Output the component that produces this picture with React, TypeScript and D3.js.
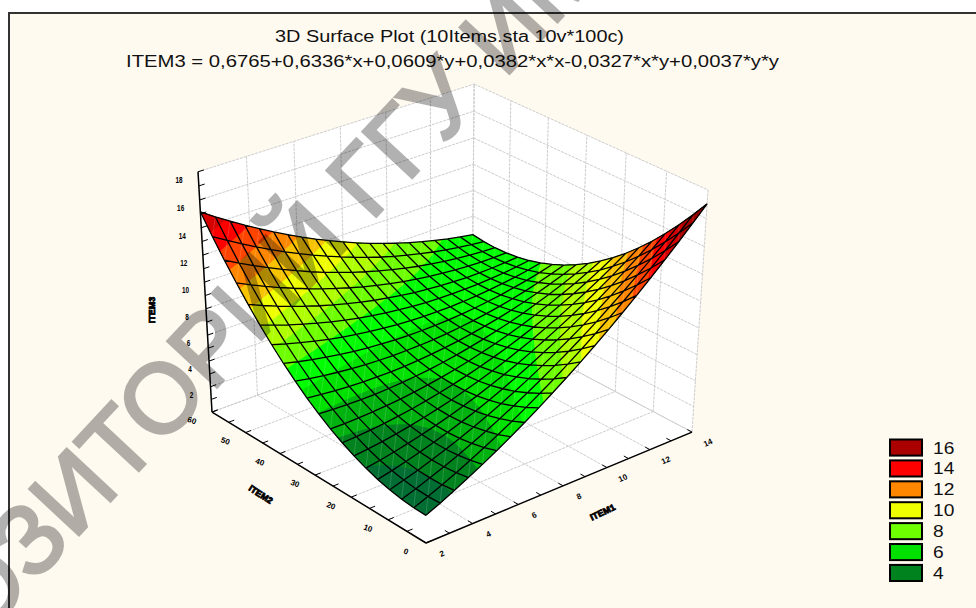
import React from "react";
import * as d3 from "d3";

const width = 976;
const height = 608;

const title = "3D Surface Plot (10Items.sta 10v*100c)";
const equation = "ITEM3 = 0,6765+0,6336*x+0,0609*y+0,0382*x*x-0,0327*x*y+0,0037*y*y";
const watermark = "РЕПОЗИТОРИЙ ГГУ ИМЕНИ Ф.СКОРИНЫ";

const xTicks = [2, 4, 6, 8, 10, 12, 14];
const xMinor = [3, 5, 7, 9, 11, 13];
const yTicks = [0, 10, 20, 30, 40, 50, 60];
const yMinor = [5, 15, 25, 35, 45, 55];
const zTicks = [0, 2, 4, 6, 8, 10, 12, 14, 16, 18];
const zMinor = [1, 3, 5, 7, 9, 11, 13, 15, 17];
const zLabels = [2, 4, 6, 8, 10, 12, 14, 16, 18];

const legendLevels = [16, 14, 12, 10, 8, 6, 4];

// ITEM3 read on the mesh: one row per x step (2 -> 14), one column per y step (0 -> 60)
const surface = [
  [2.10, 2.12, 2.22, 2.39, 2.63, 2.95, 3.34, 3.81, 4.34, 4.96, 5.64, 6.41, 7.24, 8.15, 9.13, 10.19, 11.32, 12.52, 13.80, 15.15],
  [2.58, 2.54, 2.58, 2.69, 2.87, 3.12, 3.45, 3.86, 4.33, 4.89, 5.51, 6.21, 6.98, 7.83, 8.75, 9.74, 10.81, 11.95, 13.17, 14.45],
  [3.10, 2.99, 2.97, 3.01, 3.13, 3.33, 3.59, 3.94, 4.35, 4.84, 5.40, 6.04, 6.75, 7.54, 8.39, 9.33, 10.33, 11.41, 12.56, 13.79],
  [3.64, 3.47, 3.38, 3.37, 3.43, 3.56, 3.76, 4.04, 4.40, 4.82, 5.32, 5.90, 6.55, 7.27, 8.07, 8.94, 9.88, 10.90, 11.99, 13.15],
  [4.20, 3.98, 3.83, 3.75, 3.75, 3.82, 3.96, 4.18, 4.47, 4.83, 5.27, 5.79, 6.37, 7.03, 7.77, 8.58, 9.46, 10.41, 11.44, 12.55],
  [4.80, 4.51, 4.30, 4.16, 4.09, 4.10, 4.18, 4.34, 4.57, 4.87, 5.25, 5.70, 6.22, 6.82, 7.50, 8.24, 9.06, 9.96, 10.92, 11.96],
  [5.42, 5.07, 4.80, 4.60, 4.47, 4.41, 4.43, 4.53, 4.70, 4.94, 5.25, 5.64, 6.10, 6.64, 7.25, 7.93, 8.69, 9.52, 10.43, 11.41],
  [6.07, 5.66, 5.33, 5.06, 4.87, 4.76, 4.71, 4.75, 4.85, 5.03, 5.28, 5.61, 6.01, 6.49, 7.03, 7.66, 8.35, 9.12, 9.97, 10.88],
  [6.75, 6.28, 5.88, 5.55, 5.30, 5.12, 5.02, 4.99, 5.03, 5.15, 5.34, 5.61, 5.95, 6.36, 6.84, 7.40, 8.04, 8.75, 9.53, 10.38],
  [7.46, 6.92, 6.46, 6.07, 5.76, 5.52, 5.35, 5.26, 5.24, 5.30, 5.43, 5.63, 5.91, 6.26, 6.68, 7.18, 7.75, 8.40, 9.12, 9.91],
  [8.19, 7.59, 7.07, 6.62, 6.25, 5.94, 5.72, 5.56, 5.48, 5.47, 5.54, 5.68, 5.90, 6.19, 6.55, 6.99, 7.50, 8.08, 8.74, 9.47],
  [8.95, 8.29, 7.71, 7.20, 6.76, 6.39, 6.10, 5.89, 5.75, 5.68, 5.68, 5.76, 5.91, 6.14, 6.44, 6.82, 7.26, 7.79, 8.38, 9.05],
  [9.74, 9.02, 8.37, 7.80, 7.30, 6.87, 6.52, 6.24, 6.04, 5.91, 5.85, 5.87, 5.96, 6.12, 6.36, 6.67, 7.06, 7.52, 8.05, 8.66],
  [10.55, 9.77, 9.06, 8.43, 7.87, 7.38, 6.96, 6.62, 6.36, 6.17, 6.05, 6.00, 6.03, 6.13, 6.31, 6.56, 6.89, 7.28, 7.75, 8.30],
  [11.40, 10.55, 9.78, 9.08, 8.46, 7.91, 7.44, 7.03, 6.71, 6.45, 6.27, 6.16, 6.13, 6.17, 6.29, 6.48, 6.74, 7.07, 7.48, 7.97],
  [12.27, 11.36, 10.53, 9.77, 9.08, 8.47, 7.93, 7.47, 7.08, 6.76, 6.52, 6.35, 6.26, 6.24, 6.29, 6.42, 6.62, 6.89, 7.24, 7.66],
  [13.17, 12.20, 11.30, 10.48, 9.73, 9.06, 8.46, 7.94, 7.48, 7.11, 6.80, 6.57, 6.41, 6.33, 6.32, 6.38, 6.52, 6.74, 7.02, 7.38],
  [14.09, 13.06, 12.11, 11.22, 10.41, 9.68, 9.02, 8.43, 7.91, 7.47, 7.11, 6.81, 6.60, 6.45, 6.38, 6.38, 6.46, 6.61, 6.83, 7.13],
  [15.05, 13.95, 12.93, 11.99, 11.12, 10.32, 9.60, 8.95, 8.37, 7.87, 7.44, 7.09, 6.80, 6.60, 6.46, 6.40, 6.42, 6.51, 6.67, 6.90],
  [16.03, 14.87, 13.79, 12.78, 11.85, 10.99, 10.21, 9.49, 8.86, 8.29, 7.80, 7.39, 7.04, 6.77, 6.58, 6.46, 6.41, 6.44, 6.54, 6.71],
  [17.03, 15.82, 14.68, 13.61, 12.61, 11.69, 10.84, 10.07, 9.37, 8.74, 8.19, 7.71, 7.31, 6.98, 6.72, 6.54, 6.43, 6.39, 6.43, 6.54],
];

const bandLevels = d3.range(0, 18);

const colorScale = d3
  .scaleLinear<string>()
  .domain([3, 4, 6, 7, 8, 10, 12, 14, 16, 18])
  .range(["#006e32", "#00821e", "#00e100", "#00ff00", "#6eff00", "#f0ff00", "#ff8700", "#ff0000", "#aa0000", "#800000"])
  .clamp(true);

const xScale = d3.scaleLinear().domain([2, 14]).range([0, 1]);
const yScale = d3.scaleLinear().domain([0, 60]).range([0, 1]);
const zScale = d3.scaleLinear().domain([0, 18]).range([0, 1]);

// perspective camera: vanishing points of the three box directions + the front floor corner
const front = [426, 543];
const vpX = [4891, -1319];
const vpY = [-2592, -1304];
const vpZ = [437, 4278];
const kx = 0.06335;
const ky = 0.07632;
const kz = -0.06297;

function project(a: number, b: number, c: number): [number, number] {
  const w = kx * a + ky * b + kz * c + 1;
  const u = kx * vpX[0] * a + ky * vpY[0] * b + kz * vpZ[0] * c + front[0];
  const v = kx * vpX[1] * a + ky * vpY[1] * b + kz * vpZ[1] * c + front[1];
  return [u / w, v / w];
}

const line = d3.line();
const seg = (p: [number, number, number], q: [number, number, number]) =>
  line([project(p[0], p[1], p[2]), project(q[0], q[1], q[2])]) as string;

const rows = surface.length - 1;
const cols = surface[0].length - 1;

function meshPoint(r: number, c: number): [number, number] {
  return project(r / rows, c / cols, zScale(surface[r][c]));
}

// contour vertices are in grid units, sample positions sit at +0.5
function contourPoint([gx, gy]: number[]): [number, number] {
  const c = Math.min(cols, Math.max(0, gx - 0.5));
  const r = Math.min(rows, Math.max(0, gy - 0.5));
  const c0 = Math.min(cols - 1, Math.floor(c));
  const r0 = Math.min(rows - 1, Math.floor(r));
  const fc = c - c0;
  const fr = r - r0;
  const z =
    surface[r0][c0] * (1 - fr) * (1 - fc) +
    surface[r0][c0 + 1] * (1 - fr) * fc +
    surface[r0 + 1][c0] * fr * (1 - fc) +
    surface[r0 + 1][c0 + 1] * fr * fc;
  return project(r / rows, c / cols, zScale(z));
}

const contourLayers = d3
  .contours()
  .size([cols + 1, rows + 1])
  .thresholds(bandLevels)(surface.flat());

function layerPath(layer: d3.ContourMultiPolygon) {
  return layer.coordinates
    .map((poly) => poly.map((ring) => line(ring.map(contourPoint)) + "Z").join(""))
    .join("");
}

const gridColor = "#cdcdcd";
const sans = "'Liberation Sans', Arial, sans-serif";

const Grid = () => {
  const paths: string[] = [];
  xTicks.forEach((t) => {
    const a = xScale(t);
    paths.push(seg([a, 0, 0], [a, 1, 0]));
    paths.push(seg([a, 1, 0], [a, 1, 1]));
  });
  yTicks.forEach((t) => {
    const b = yScale(t);
    paths.push(seg([0, b, 0], [1, b, 0]));
    paths.push(seg([1, b, 0], [1, b, 1]));
  });
  zTicks.forEach((t) => {
    const c = zScale(t);
    paths.push(seg([0, 1, c], [1, 1, c]));
    paths.push(seg([1, 1, c], [1, 0, c]));
  });
  return <path d={paths.join("")} fill="none" stroke={gridColor} strokeWidth={1} strokeDasharray="3 1" />;
};

const Axes = () => {
  const ticks: string[] = [];
  [...xTicks, ...xMinor].forEach((t) => ticks.push(seg([xScale(t), 0, 0], [xScale(t), 0.02, 0])));
  [...yTicks, ...yMinor].forEach((t) => ticks.push(seg([0, yScale(t), 0], [0.02, yScale(t), 0])));
  [...zTicks, ...zMinor].forEach((t) => ticks.push(seg([0, 1, zScale(t)], [0.02, 1, zScale(t)])));
  const spines = [seg([0, 0, 0], [1, 0, 0]), seg([0, 0, 0], [0, 1, 0]), seg([0, 1, 0], [0, 1, 1])];
  return (
    <g fill="none" stroke="#000">
      <path d={ticks.join("")} strokeWidth={1} />
      <path d={spines.join("")} strokeWidth={1.5} />
    </g>
  );
};

const tickFont = { fontFamily: sans, fontSize: 8, fontWeight: 700, fill: "#000" };

const TickLabels = () => (
  <g {...tickFont} textAnchor="middle">
    {xTicks.map((t) => {
      const [px, py] = project(xScale(t), 0, 0);
      return (
        <text key={"x" + t} transform={`translate(${px + 17},${py + 13}) rotate(-24)`}>
          {t}
        </text>
      );
    })}
    {yTicks.map((t) => {
      const [px, py] = project(0, yScale(t), 0);
      return (
        <text key={"y" + t} transform={`translate(${px - 21},${py + 11}) rotate(20)`}>
          {t}
        </text>
      );
    })}
    {zLabels.map((t) => {
      const [px, py] = project(0, 1, zScale(t));
      return (
        <text key={"z" + t} transform={`translate(${px - 19},${py + 11}) scale(0.8,1.1)`}>
          {t}
        </text>
      );
    })}
  </g>
);

const Legend = () => {
  const y = d3.scaleBand<number>().domain(legendLevels).range([439.5, 581]).paddingInner(0.23);
  return (
    <g>
      {legendLevels.map((d) => (
        <g key={d}>
          <rect
            x={890}
            y={y(d)}
            width={32}
            height={y.bandwidth()}
            fill={colorScale(d)}
            stroke="#000"
            strokeWidth={2}
          />
          <text
            transform={`translate(933,${(y(d) as number) + 14}) scale(1.2,1)`}
            fontFamily={sans}
            fontSize={16}
            fill="#111"
          >
            {d}
          </text>
        </g>
      ))}
    </g>
  );
};

export default function App() {
  const mesh: string[] = [];
  const diagonals: string[] = [];
  d3.range(rows + 1).forEach((r) => {
    mesh.push(line(d3.range(cols + 1).map((c) => meshPoint(r, c))) as string);
  });
  d3.range(cols + 1).forEach((c) => {
    mesh.push(line(d3.range(rows + 1).map((r) => meshPoint(r, c))) as string);
  });
  d3.range(rows).forEach((r) => {
    d3.range(cols).forEach((c) => {
      diagonals.push(line([meshPoint(r, c), meshPoint(r + 1, c + 1)]) as string);
    });
  });

  const walls = [
    [project(0, 0, 0), project(0, 1, 0), project(1, 1, 0), project(1, 0, 0)],
    [project(0, 1, 0), project(0, 1, 1), project(1, 1, 1), project(1, 1, 0)],
    [project(1, 0, 0), project(1, 0, 1), project(1, 1, 1), project(1, 1, 0)],
  ];

  return (
    <svg
      width={width}
      height={height}
      style={{ position: "absolute", left: 0, top: 0, display: "block", background: "#fff" }}
    >
      <rect x={9} y={13} width={width} height={height} fill="#fffaf0" stroke="#333" strokeWidth={2} />

      <text x={275} y={41.5} textLength={349} lengthAdjust="spacingAndGlyphs" fontFamily={sans} fontSize={16} fill="#111">
        {title}
      </text>
      <text x={126} y={66.5} textLength={653} lengthAdjust="spacingAndGlyphs" fontFamily={sans} fontSize={16} fill="#111">
        {equation}
      </text>

      {walls.map((w, i) => (
        <path key={i} d={line(w) + "Z"} fill="#fff" />
      ))}
      <Grid />

      {contourLayers.map((layer) => (
        <path key={layer.value} d={layerPath(layer)} fill={colorScale(layer.value + 1)} fillRule="evenodd" />
      ))}
      <path d={diagonals.join("")} fill="none" stroke="#fff" strokeOpacity={0.2} strokeWidth={0.8} />
      <path d={mesh.join("")} fill="none" stroke="#000" strokeWidth={1.3} />

      <Axes />
      <TickLabels />

      <g fontFamily={sans} fontWeight={700} fontSize={9} fill="#000" stroke="#000" strokeWidth={0.8} textAnchor="middle">
        <text transform="translate(155,310) rotate(-90)">ITEM3</text>
        <text transform="translate(259,497) rotate(33)">ITEM2</text>
        <text transform="translate(604,515) rotate(-26)">ITEM1</text>
      </g>

      <Legend />

      <text
        transform="translate(-156,787) rotate(-47)"
        fontFamily={sans}
        fontSize={98}
        fill="#000"
        stroke="#000"
        strokeWidth={3}
        opacity={0.3}
      >
        {watermark}
      </text>
    </svg>
  );
}
